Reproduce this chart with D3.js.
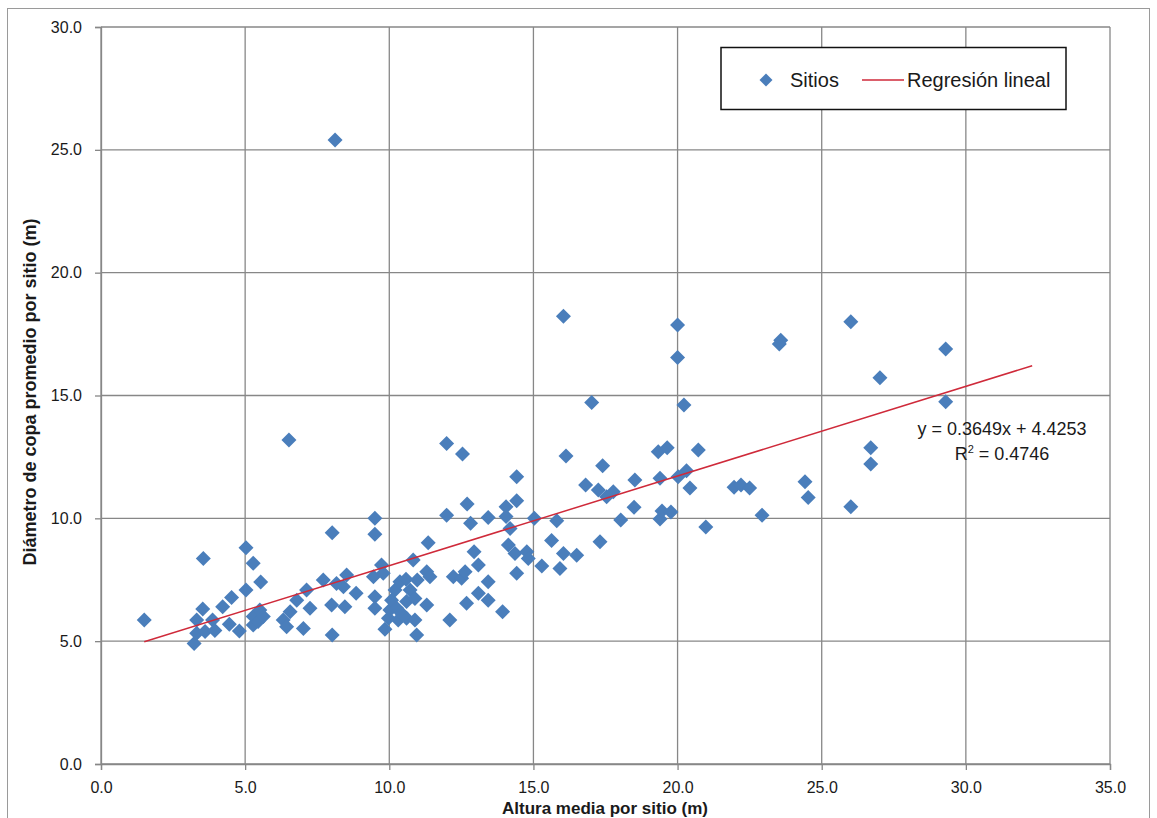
<!DOCTYPE html>
<html>
<head>
<meta charset="utf-8">
<script src="https://cdn.jsdelivr.net/npm/d3@7"></script>
<style>
  body { margin: 0; background: #fff; }
  text { font-family: "Liberation Sans", Arial, sans-serif; fill: #1a1a1a; }
</style>
</head>
<body>
<div id="chart"></div>
<script>
// altura media por sitio (m)
const alturaMedia = [1.50, 3.23, 3.32, 3.32, 3.53, 3.55, 3.61, 3.87, 3.95, 4.22, 4.45, 4.53, 4.80, 5.03, 5.03,
  5.28, 5.28, 5.28, 5.45, 5.51, 5.54, 5.63, 6.32, 6.44, 6.52, 6.56, 6.79, 7.02, 7.13, 7.25, 7.71, 8.00, 8.02,
  8.02, 8.12, 8.17, 8.41, 8.46, 8.52, 8.85, 9.45, 9.50, 9.50, 9.50, 9.50, 9.73, 9.79, 9.85, 9.97, 10.02, 10.08,
  10.20, 10.26, 10.31, 10.37, 10.43, 10.58, 10.60, 10.60, 10.72, 10.83, 10.89, 10.89, 10.95, 10.97, 11.30,
  11.30, 11.35, 11.41, 11.99, 11.99, 12.10, 12.22, 12.51, 12.54, 12.63, 12.68, 12.70, 12.82, 12.94, 13.09,
  13.09, 13.43, 13.43, 13.43, 13.93, 14.05, 14.05, 14.13, 14.19, 14.36, 14.42, 14.42, 14.42, 14.77, 14.82,
  15.03, 15.29, 15.63, 15.81, 15.92, 16.04, 16.04, 16.13, 16.50, 16.81, 17.02, 17.25, 17.31, 17.40, 17.54,
  17.77, 18.03, 18.49, 18.52, 19.33, 19.39, 19.39, 19.46, 19.64, 19.77, 20.00, 20.00, 20.02, 20.22, 20.31,
  20.43, 20.72, 20.98, 21.96, 22.20, 22.50, 22.93, 23.53, 23.58, 24.42, 24.53, 26.01, 26.01, 26.70, 26.70,
  27.02, 29.30, 29.30];

// diametro de copa promedio por sitio (m)
const diametroCopa = [5.86, 4.91, 5.32, 5.86, 6.31, 8.37, 5.39, 5.86, 5.43, 6.40, 5.69, 6.78, 5.41, 7.08, 8.80,
  8.17, 5.66, 6.00, 5.80, 6.27, 7.41, 6.00, 5.86, 5.59, 13.19, 6.20, 6.67, 5.52, 7.08, 6.34, 7.49, 6.47, 5.25,
  9.41, 25.40, 7.35, 7.22, 6.40, 7.69, 6.95, 7.62, 10.00, 9.35, 6.81, 6.34, 8.10, 7.76, 5.48, 5.93, 6.27, 6.67,
  7.08, 6.34, 5.86, 7.42, 6.13, 7.52, 6.61, 5.93, 7.08, 8.30, 6.74, 5.86, 5.25, 7.49, 6.47,
  7.83, 9.01, 7.62, 13.05, 10.13, 5.86, 7.62, 7.56, 12.62, 7.83, 6.54, 10.58, 9.80, 8.64, 8.10,
  6.95, 10.03, 7.42, 6.67, 6.20, 10.47, 10.07, 8.91, 9.59, 8.57, 11.69, 10.72, 7.76, 8.64, 8.37,
  10.00, 8.06, 9.10, 9.90, 7.96, 8.57, 18.23, 12.54, 8.50, 11.36, 14.72, 11.15, 9.05, 12.14, 10.88,
  11.08, 9.93, 10.45, 11.56, 12.71, 11.63, 9.97, 10.30, 12.87, 10.26, 17.87, 16.55, 11.69, 14.61, 11.94,
  11.23, 12.78, 9.65, 11.27, 11.36, 11.23, 10.13, 17.10, 17.25, 11.49, 10.85, 18.00, 10.47, 12.87, 12.21,
  15.72, 16.89, 14.75];

const xTicks = [0, 5, 10, 15, 20, 25, 30, 35];
const yTicks = [0, 5, 10, 15, 20, 25, 30];

// regresion lineal
const pendiente = 0.3649, intercepto = 4.4253, r2 = 0.4746;
const rangoTendencia = [1.5, 32.3];

const W = 1157, H = 818;
const svg = d3.select("#chart").append("svg")
  .attr("width", W).attr("height", H);

// outer chart border
svg.append("rect")
  .attr("x", 7.5).attr("y", 8.5)
  .attr("width", 1142).attr("height", 830)
  .attr("fill", "#fff")
  .attr("stroke", "#9a9a9a").attr("stroke-width", 1);

const x = d3.scaleLinear().domain([0, 35]).range([101, 1110]);
const y = d3.scaleLinear().domain([0, 30]).range([764, 27]);

const gridColor = "#878787";

// gridlines
svg.append("g").selectAll("line.v").data(xTicks).join("line")
  .attr("x1", d => x(d)).attr("x2", d => x(d))
  .attr("y1", y(0)).attr("y2", y(30))
  .attr("stroke", gridColor).attr("stroke-width", 1.3);
svg.append("g").selectAll("line.h").data(yTicks).join("line")
  .attr("x1", x(0)).attr("x2", x(35))
  .attr("y1", d => y(d)).attr("y2", d => y(d))
  .attr("stroke", gridColor).attr("stroke-width", 1.3);

// axes
const fmt = d3.format(".1f");
const xAxis = svg.append("g")
  .attr("transform", `translate(0,${y(0)})`)
  .call(d3.axisBottom(x).tickValues(xTicks).tickFormat(fmt).tickSize(6).tickPadding(12));
const yAxis = svg.append("g")
  .attr("transform", `translate(${x(0)},0)`)
  .call(d3.axisLeft(y).tickValues(yTicks).tickFormat(fmt).tickSize(6).tickPadding(13));

[xAxis, yAxis].forEach(g => {
  g.select(".domain").attr("stroke", gridColor).attr("stroke-width", 1.3);
  g.selectAll(".tick line").attr("stroke", gridColor).attr("stroke-width", 1.3);
  g.selectAll(".tick text")
    .style("font-family", "'Liberation Sans', Arial, sans-serif")
    .style("font-size", "16px")
    .attr("fill", "#222");
});

// axis titles
svg.append("text")
  .attr("x", 605).attr("y", 814)
  .attr("text-anchor", "middle")
  .style("font-size", "17px").style("font-weight", "bold")
  .text("Altura media por sitio (m)");

svg.append("text")
  .attr("transform", "translate(36,392) rotate(-90)")
  .attr("text-anchor", "middle")
  .style("font-size", "18px").style("font-weight", "bold")
  .text("Diámetro de copa promedio por sitio (m)");

// diamonds
const diamond = r => `M0,${-r}L${r},0L0,${r}L${-r},0Z`;
const puntos = alturaMedia.map((a, i) => ({a: a, d: diametroCopa[i]}));

svg.append("g").selectAll("path").data(puntos).join("path")
  .attr("d", diamond(7.5))
  .attr("transform", p => `translate(${x(p.a)},${y(p.d)})`)
  .attr("fill", "#4a7ebb");

// trend line
const tendencia = rangoTendencia.map(v => [v, pendiente * v + intercepto]);
svg.append("path")
  .datum(tendencia)
  .attr("d", d3.line().x(d => x(d[0])).y(d => y(d[1])))
  .attr("fill", "none")
  .attr("stroke", "#cf2a3a").attr("stroke-width", 1.5);

// equation label
const eq = svg.append("text")
  .attr("text-anchor", "middle")
  .style("font-size", "18px");
eq.append("tspan").attr("x", 1002).attr("y", 435)
  .text(`y = ${pendiente.toFixed(4)}x + ${intercepto.toFixed(4)}`);
const l2 = eq.append("tspan").attr("x", 1002).attr("y", 460);
l2.append("tspan").text("R");
l2.append("tspan").attr("dy", -7).style("font-size", "11px").text("2");
l2.append("tspan").attr("dy", 7).text(` = ${r2.toFixed(4)}`);

// legend
const leg = svg.append("g");
leg.append("rect")
  .attr("x", 721).attr("y", 47.5)
  .attr("width", 345).attr("height", 62)
  .attr("fill", "#fff").attr("stroke", "#111").attr("stroke-width", 1.5);
leg.append("path")
  .attr("d", diamond(6.5))
  .attr("transform", "translate(766,80)")
  .attr("fill", "#4a7ebb");
leg.append("text")
  .attr("x", 790).attr("y", 87)
  .style("font-size", "20px")
  .text("Sitios");
leg.append("line")
  .attr("x1", 862).attr("x2", 904)
  .attr("y1", 80).attr("y2", 80)
  .attr("stroke", "#cf2a3a").attr("stroke-width", 1.5);
leg.append("text")
  .attr("x", 907).attr("y", 87)
  .style("font-size", "20px")
  .text("Regresión lineal");
</script>
</body>
</html>
